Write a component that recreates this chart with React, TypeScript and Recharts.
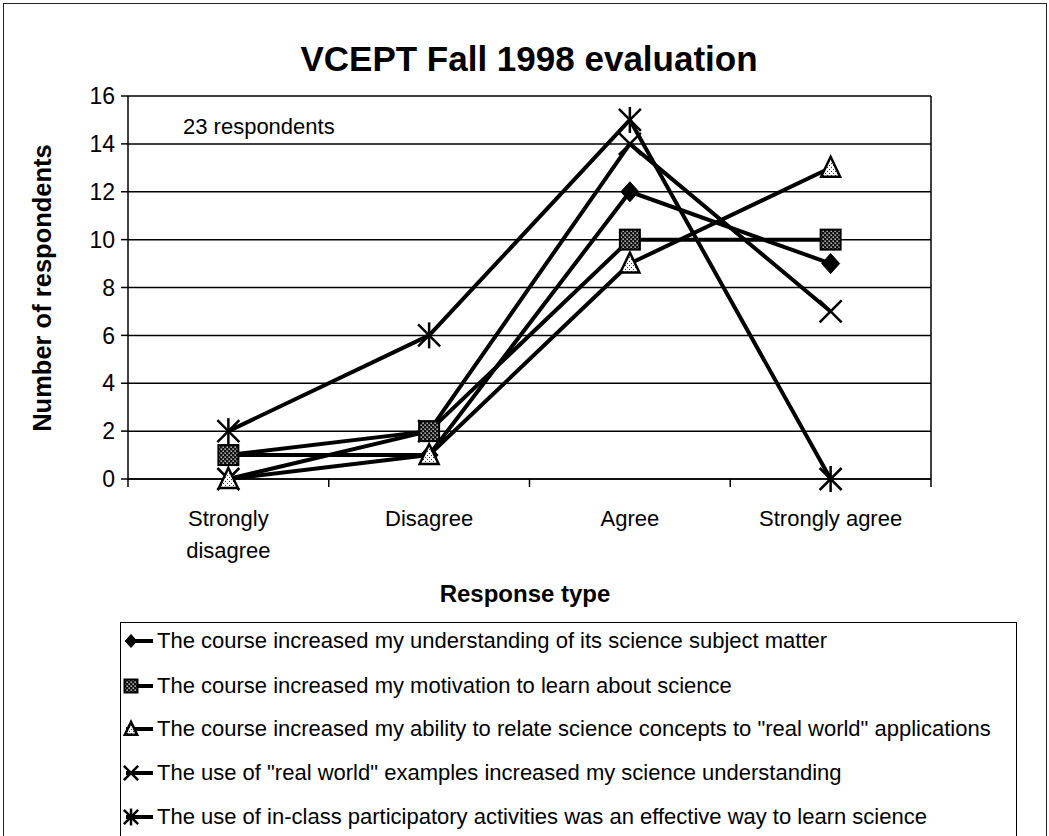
import React from 'react';
import { LineChart, Line, XAxis, YAxis, CartesianGrid, ReferenceLine } from 'recharts';

// ---- data ----
const categories = ['Strongly disagree', 'Disagree', 'Agree', 'Strongly agree'];
const understanding = [1, 1, 12, 9];
const motivation = [1, 2, 10, 10];
const realWorldAbility = [0, 1, 9, 13];
const realWorldExamples = [0, 2, 14, 7];
const participatory = [2, 6, 15, 0];
const yTicks = [0, 2, 4, 6, 8, 10, 12, 14, 16];
const seriesNames = [
  'The course increased my understanding of its science subject matter',
  'The course increased my motivation to learn about science',
  'The course increased my ability to relate science concepts to "real world" applications',
  'The use of "real world" examples increased my science understanding',
  'The use of in-class participatory activities was an effective way to learn science',
];
const title = 'VCEPT Fall 1998 evaluation';
const note = '23 respondents';
const xTitle = 'Response type';
const yTitle = 'Number of respondents';

type Shape = 'diamond' | 'square' | 'triangle' | 'x' | 'star';

const series: { key: string; name: string; values: number[]; shape: Shape }[] = [
  { key: 's0', name: seriesNames[0], values: understanding, shape: 'diamond' },
  { key: 's1', name: seriesNames[1], values: motivation, shape: 'square' },
  { key: 's2', name: seriesNames[2], values: realWorldAbility, shape: 'triangle' },
  { key: 's3', name: seriesNames[3], values: realWorldExamples, shape: 'x' },
  { key: 's4', name: seriesNames[4], values: participatory, shape: 'star' },
];
// drawing order (lower first)
const drawOrder = [3, 0, 1, 2, 4];

const data = categories.map((c, i) => {
  const row: Record<string, number | string> = { category: c, x: i + 0.5 };
  series.forEach((s) => (row[s.key] = s.values[i]));
  return row;
});

const xTicks: number[] = [];
for (let i = 0; i <= categories.length * 2; i++) xTicks.push(i / 2);

const FONT = '"Liberation Sans", Arial, Helvetica, sans-serif';

function wrapLabel(label: string): string[] {
  const words = label.split(' ');
  if (label === 'Strongly disagree') return words;
  return [label];
}

function Marker({ shape, cx, cy, s = 1 }: { shape: Shape; cx: number; cy: number; s?: number }) {
  if (cx == null || cy == null) return null;
  switch (shape) {
    case 'diamond':
      return (
        <polygon
          points={`${cx},${cy - 10 * s} ${cx + 9 * s},${cy} ${cx},${cy + 10 * s} ${cx - 9 * s},${cy}`}
          fill="#000"
          stroke="#000"
          strokeWidth={1}
        />
      );
    case 'square':
      return (
        <rect
          x={cx - 10 * s}
          y={cy - 10 * s}
          width={20 * s}
          height={20 * s}
          fill="url(#stippleDark)"
          stroke="#000"
          strokeWidth={2}
        />
      );
    case 'triangle':
      return (
        <polygon
          points={`${cx},${cy - 11 * s} ${cx + 9.5 * s},${cy + 9 * s} ${cx - 9.5 * s},${cy + 9 * s}`}
          fill="url(#stippleLight)"
          stroke="#000"
          strokeWidth={2.5}
          strokeLinejoin="miter"
        />
      );
    case 'x':
      return (
        <g stroke="#000" strokeWidth={2.5}>
          <line x1={cx - 11 * s} y1={cy - 11 * s} x2={cx + 11 * s} y2={cy + 11 * s} />
          <line x1={cx - 11 * s} y1={cy + 11 * s} x2={cx + 11 * s} y2={cy - 11 * s} />
        </g>
      );
    case 'star':
      return (
        <g stroke="#000" strokeWidth={2.5}>
          <line x1={cx - 11 * s} y1={cy - 11 * s} x2={cx + 11 * s} y2={cy + 11 * s} />
          <line x1={cx - 11 * s} y1={cy + 11 * s} x2={cx + 11 * s} y2={cy - 11 * s} />
          <line x1={cx} y1={cy - 13 * s} x2={cx} y2={cy + 13 * s} />
        </g>
      );
  }
  return null;
}

function makeDot(shape: Shape) {
  return (props: any) => (
    <g key={`${shape}-${props.index}`}>
      <Marker shape={shape} cx={props.cx} cy={props.cy} />
    </g>
  );
}

function CatTick(props: any) {
  const { x, y, payload } = props;
  const v = payload.value as number;
  if (Math.abs(v - Math.round(v)) < 1e-6) {
    return <line x1={x} y1={y} x2={x} y2={y + 8} stroke="#000" strokeWidth={1.5} />;
  }
  const label = categories[Math.floor(v)];
  const lines = wrapLabel(label);
  return (
    <text x={x} y={y + 47} textAnchor="middle" fontFamily={FONT} fontSize={22} fill="#000">
      {lines.map((l, i) => (
        <tspan key={i} x={x} dy={i === 0 ? 0 : 32}>
          {l}
        </tspan>
      ))}
    </text>
  );
}

const W = 1049;
const H = 836;
const PLOT_LEFT = 128;
const PLOT_RIGHT = 931;
const PLOT_TOP = 96;
const PLOT_BOTTOM = 479;
const Y_AXIS_W = 70;
const X_AXIS_H = 40;

const legendTop = 622;
const legendRows = [641, 686, 729, 773, 817];

export default function App() {
  return (
    <div
      style={{
        position: 'absolute',
        left: 0,
        top: 0,
        width: W,
        height: H,
        overflow: 'hidden',
        background: '#fff',
        fontFamily: FONT,
      }}
    >
      <svg width={0} height={0} style={{ position: 'absolute' }}>
        <defs>
          <pattern id="stippleDark" width={4} height={4} patternUnits="userSpaceOnUse">
            <rect width={4} height={4} fill="#111" />
            <rect x={0.5} y={0.5} width={1.3} height={1.3} fill="#fff" />
            <rect x={2.5} y={2.5} width={1.3} height={1.3} fill="#fff" />
          </pattern>
          <pattern id="stippleLight" width={4} height={4} patternUnits="userSpaceOnUse">
            <rect width={4} height={4} fill="#fff" />
            <rect x={1} y={1} width={1} height={1} fill="#333" />
            <rect x={3} y={3} width={1} height={1} fill="#333" />
          </pattern>
        </defs>
      </svg>

      {/* outer frame */}
      <div
        style={{
          position: 'absolute',
          left: 3,
          top: 3,
          width: 1042,
          height: 850,
          border: '1.5px solid #222',
        }}
      />

      <div style={{ position: 'absolute', left: 0, top: 0 }}>
        <LineChart
          width={W}
          height={H}
          data={data}
          margin={{
            top: PLOT_TOP,
            right: W - PLOT_RIGHT,
            left: PLOT_LEFT - Y_AXIS_W,
            bottom: H - PLOT_BOTTOM - X_AXIS_H,
          }}
        >
          <CartesianGrid vertical={false} stroke="#000" strokeWidth={1.5} strokeDasharray="" />
          <XAxis
            dataKey="x"
            type="number"
            domain={[0, categories.length]}
            ticks={xTicks}
            interval={0}
            tickLine={false}
            tickSize={0}
            tickMargin={0}
            tick={<CatTick />}
            axisLine={{ stroke: '#000', strokeWidth: 1.5 }}
            height={X_AXIS_H}
            allowDecimals
          />
          <YAxis
            type="number"
            domain={[0, 16]}
            ticks={yTicks}
            interval={0}
            width={Y_AXIS_W}
            tickSize={7}
            tickMargin={6}
            tickLine={{ stroke: '#000', strokeWidth: 1.5 }}
            axisLine={{ stroke: '#000', strokeWidth: 1.5 }}
            tick={{ fill: '#000', fontSize: 23, fontFamily: FONT }}
          />
          <ReferenceLine x={categories.length} stroke="#000" strokeWidth={1.5} />
          {drawOrder.map((idx) => {
            const s = series[idx];
            return (
              <Line
                key={s.key}
                dataKey={s.key}
                name={s.name}
                type="linear"
                stroke="#000"
                strokeWidth={4}
                strokeLinejoin="round"
                dot={makeDot(s.shape)}
                activeDot={false}
                isAnimationActive={false}
              />
            );
          })}
        </LineChart>
      </div>

      {/* title */}
      <div
        style={{
          position: 'absolute',
          left: 0,
          width: 1058,
          top: 37,
          textAlign: 'center',
          fontWeight: 'bold',
          fontSize: 35,
          lineHeight: '44px',
          color: '#000',
        }}
      >
        {title}
      </div>

      {/* note */}
      <div style={{ position: 'absolute', left: 183, top: 113, fontSize: 22, lineHeight: '28px', color: '#000' }}>
        {note}
      </div>

      {/* x title */}
      <div
        style={{
          position: 'absolute',
          left: 0,
          width: 1050,
          top: 579,
          textAlign: 'center',
          fontWeight: 'bold',
          fontSize: 24,
          lineHeight: '30px',
          color: '#000',
        }}
      >
        {xTitle}
      </div>

      {/* y title */}
      <div
        style={{
          position: 'absolute',
          left: 42 - 200,
          top: 288 - 15,
          width: 400,
          height: 30,
          textAlign: 'center',
          fontWeight: 'bold',
          fontSize: 25.5,
          lineHeight: '30px',
          transform: 'rotate(-90deg)',
          transformOrigin: '200px 15px',
          color: '#000',
        }}
      >
        {yTitle}
      </div>

      {/* legend */}
      <div
        style={{
          position: 'absolute',
          left: 120,
          top: legendTop,
          width: 897,
          height: 260,
          border: '1.5px solid #000',
          boxSizing: 'border-box',
        }}
      />
      {series.map((s, i) => (
        <div key={s.key} style={{ position: 'absolute', left: 120, top: legendRows[i] - 15, height: 30, width: 897 }}>
          <svg width={40} height={30} style={{ position: 'absolute', left: 0, top: 0 }}>
            <line x1={6} y1={15} x2={33} y2={15} stroke="#000" strokeWidth={4} />
            <Marker shape={s.shape} cx={11} cy={15} s={0.65} />
          </svg>
          <span
            style={{
              position: 'absolute',
              left: 37,
              top: 0,
              fontSize: 22,
              lineHeight: '30px',
              whiteSpace: 'nowrap',
              color: '#000',
            }}
          >
            {s.name}
          </span>
        </div>
      ))}
    </div>
  );
}
